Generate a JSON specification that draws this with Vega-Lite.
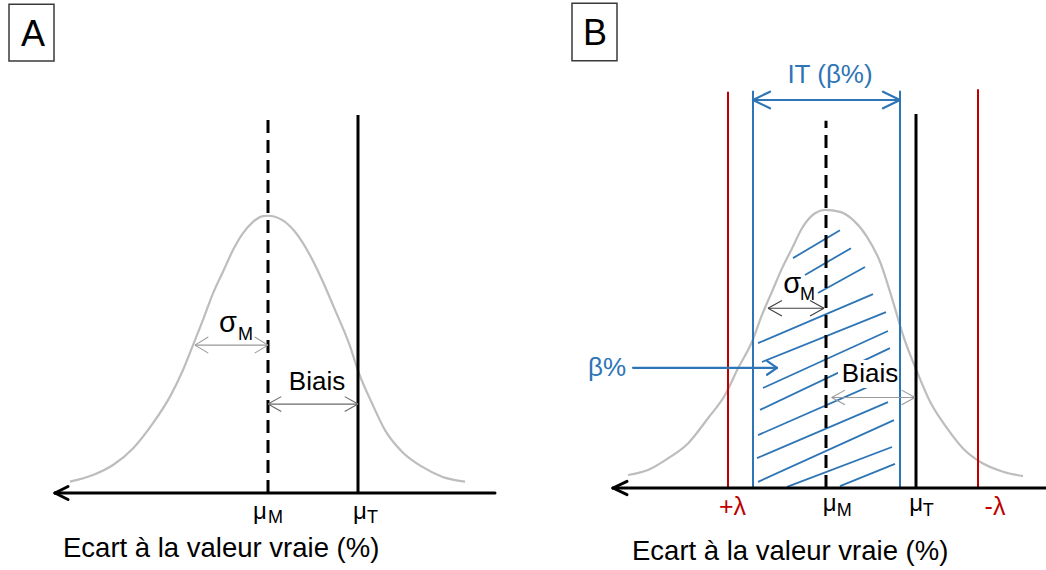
{
  "$schema": "https://vega.github.io/schema/vega-lite/v6.json",
  "autosize": {"type": "pad"},
  "padding": 0,
  "spacing": 0,
  "bounds": "flush",
  "background": "white",
  "config": {"view": {"stroke": null}, "text": {"font": "Liberation Sans"}},
  "resolve": {"scale": {"x": "independent", "y": "independent"}},
  "datasets": {
    "boxes": [
      {"panel": "A", "x": -25.9, "x2": -21.4, "y": 176.5, "y2": 156.0},
      {"panel": "B", "x": -25.4, "x2": -20.9, "y": 175.0, "y2": 154.3}
    ],
    "masks": [
      {"panel": "B", "x": 1.2, "x2": 7.6, "y": 36.1, "y2": 46.2}
    ],
    "curves": [
      {"panel": "A", "x": -19.8, "y": 4.1}, {"panel": "A", "x": -17.5, "y": 6.5}, {"panel": "A", "x": -15.5, "y": 10.1},
      {"panel": "A", "x": -13.5, "y": 16.1}, {"panel": "A", "x": -11.5, "y": 25.2}, {"panel": "A", "x": -9.8, "y": 34.8},
      {"panel": "A", "x": -8.5, "y": 44.4}, {"panel": "A", "x": -7.5, "y": 53.4}, {"panel": "A", "x": -6.5, "y": 62.5},
      {"panel": "A", "x": -5.5, "y": 72.1}, {"panel": "A", "x": -4.5, "y": 79.9}, {"panel": "A", "x": -3.5, "y": 87.7},
      {"panel": "A", "x": -2.5, "y": 93.8}, {"panel": "A", "x": -1.5, "y": 97.9}, {"panel": "A", "x": -0.5, "y": 100.0},
      {"panel": "A", "x": 0.0, "y": 100.1}, {"panel": "A", "x": 1.4, "y": 98.6}, {"panel": "A", "x": 2.7, "y": 94.3},
      {"panel": "A", "x": 4.1, "y": 86.5}, {"panel": "A", "x": 5.4, "y": 77.0}, {"panel": "A", "x": 6.7, "y": 66.1},
      {"panel": "A", "x": 8.1, "y": 54.0}, {"panel": "A", "x": 9.1, "y": 43.2}, {"panel": "A", "x": 10.4, "y": 32.4},
      {"panel": "A", "x": 11.7, "y": 22.7}, {"panel": "A", "x": 13.4, "y": 14.9}, {"panel": "A", "x": 15.4, "y": 9.5},
      {"panel": "A", "x": 17.4, "y": 5.9}, {"panel": "A", "x": 19.7, "y": 4.1},
      {"panel": "B", "x": -19.8, "y": 4.7}, {"panel": "B", "x": -17.8, "y": 6.5}, {"panel": "B", "x": -15.8, "y": 10.7},
      {"panel": "B", "x": -13.8, "y": 16.1}, {"panel": "B", "x": -11.8, "y": 25.2}, {"panel": "B", "x": -10.1, "y": 33.6},
      {"panel": "B", "x": -8.8, "y": 43.2}, {"panel": "B", "x": -7.4, "y": 52.8}, {"panel": "B", "x": -6.4, "y": 62.5},
      {"panel": "B", "x": -5.4, "y": 70.9}, {"panel": "B", "x": -4.4, "y": 79.3}, {"panel": "B", "x": -3.4, "y": 86.5},
      {"panel": "B", "x": -2.4, "y": 93.8}, {"panel": "B", "x": -1.1, "y": 99.2}, {"panel": "B", "x": -0.1, "y": 100.4},
      {"panel": "B", "x": 1.4, "y": 99.7}, {"panel": "B", "x": 2.7, "y": 96.8}, {"panel": "B", "x": 4.1, "y": 90.7},
      {"panel": "B", "x": 5.4, "y": 81.7}, {"panel": "B", "x": 6.7, "y": 67.3}, {"panel": "B", "x": 7.7, "y": 55.2},
      {"panel": "B", "x": 9.1, "y": 42.0}, {"panel": "B", "x": 10.4, "y": 31.2}, {"panel": "B", "x": 12.1, "y": 21.6},
      {"panel": "B", "x": 13.7, "y": 14.3}, {"panel": "B", "x": 15.4, "y": 9.5}, {"panel": "B", "x": 17.7, "y": 5.9},
      {"panel": "B", "x": 19.7, "y": 4.3}
    ],
    "verticals": [
      {"panel": "A", "kind": "muM", "x": 0.0, "y": 0, "y2": 137.2},
      {"panel": "A", "kind": "muT", "x": 9.0, "y": 0, "y2": 136.5},
      {"panel": "B", "kind": "muM", "x": 0.0, "y": 0, "y2": 132.6},
      {"panel": "B", "kind": "muT", "x": 9.0, "y": 0, "y2": 135.0},
      {"panel": "B", "kind": "lambda", "x": -9.8, "y": 0, "y2": 143.1},
      {"panel": "B", "kind": "lambda", "x": 15.2, "y": 0, "y2": 144.0},
      {"panel": "B", "kind": "IT", "x": -7.3, "y": 0, "y2": 143.4},
      {"panel": "B", "kind": "IT", "x": 7.4, "y": 0, "y2": 143.4}
    ],
    "segments": [
      {"panel": "A", "kind": "axis", "x": -21.3, "y": 0, "x2": 22.7, "y2": 0},
      {"panel": "A", "kind": "axis", "x": -21.3, "y": 0, "x2": -20.0, "y2": 2.35},
      {"panel": "A", "kind": "axis", "x": -21.3, "y": 0, "x2": -20.0, "y2": -2.35},
      {"panel": "A", "kind": "dimLight", "x": -7.3, "y": 53.4, "x2": 0, "y2": 53.4},
      {"panel": "A", "kind": "dimLight", "x": -7.3, "y": 53.4, "x2": -5.97, "y2": 56.3},
      {"panel": "A", "kind": "dimLight", "x": -7.3, "y": 53.4, "x2": -5.97, "y2": 50.5},
      {"panel": "A", "kind": "dimLight", "x": 0, "y": 53.4, "x2": -1.33, "y2": 56.3},
      {"panel": "A", "kind": "dimLight", "x": 0, "y": 53.4, "x2": -1.33, "y2": 50.5},
      {"panel": "A", "kind": "dimMid", "x": 0, "y": 32.1, "x2": 9.0, "y2": 32.1},
      {"panel": "A", "kind": "dimMid", "x": 0, "y": 32.1, "x2": 1.33, "y2": 34.8},
      {"panel": "A", "kind": "dimMid", "x": 0, "y": 32.1, "x2": 1.33, "y2": 29.4},
      {"panel": "A", "kind": "dimMid", "x": 9.0, "y": 32.1, "x2": 7.67, "y2": 34.8},
      {"panel": "A", "kind": "dimMid", "x": 9.0, "y": 32.1, "x2": 7.67, "y2": 29.4},
      {"panel": "B", "kind": "axis", "x": -21.3, "y": 0, "x2": 22.0, "y2": 0},
      {"panel": "B", "kind": "axis", "x": -21.3, "y": 0, "x2": -19.9, "y2": 2.4},
      {"panel": "B", "kind": "axis", "x": -21.3, "y": 0, "x2": -19.9, "y2": -2.4},
      {"panel": "B", "kind": "dimDark", "x": -5.8, "y": 64.9, "x2": -0.2, "y2": 64.9},
      {"panel": "B", "kind": "dimDark", "x": -5.8, "y": 64.9, "x2": -4.4, "y2": 67.7},
      {"panel": "B", "kind": "dimDark", "x": -5.8, "y": 64.9, "x2": -4.4, "y2": 62.1},
      {"panel": "B", "kind": "dimDark", "x": -0.2, "y": 64.9, "x2": -1.6, "y2": 67.7},
      {"panel": "B", "kind": "dimDark", "x": -0.2, "y": 64.9, "x2": -1.6, "y2": 62.1},
      {"panel": "B", "kind": "dimLight", "x": 0.57, "y": 32.7, "x2": 8.9, "y2": 32.7},
      {"panel": "B", "kind": "dimLight", "x": 0.57, "y": 32.7, "x2": 1.9, "y2": 35.35},
      {"panel": "B", "kind": "dimLight", "x": 0.57, "y": 32.7, "x2": 1.9, "y2": 30.05},
      {"panel": "B", "kind": "dimLight", "x": 8.9, "y": 32.7, "x2": 7.57, "y2": 35.35},
      {"panel": "B", "kind": "dimLight", "x": 8.9, "y": 32.7, "x2": 7.57, "y2": 30.05},
      {"panel": "B", "kind": "blueArrow", "x": -7.3, "y": 140.1, "x2": 7.4, "y2": 140.1},
      {"panel": "B", "kind": "blueArrow", "x": -7.3, "y": 140.1, "x2": -5.6, "y2": 143.1},
      {"panel": "B", "kind": "blueArrow", "x": -7.3, "y": 140.1, "x2": -5.6, "y2": 137.1},
      {"panel": "B", "kind": "blueArrow", "x": 7.4, "y": 140.1, "x2": 5.7, "y2": 143.1},
      {"panel": "B", "kind": "blueArrow", "x": 7.4, "y": 140.1, "x2": 5.7, "y2": 137.1},
      {"panel": "B", "kind": "blueArrow", "x": -19.3, "y": 43.4, "x2": -4.9, "y2": 43.4},
      {"panel": "B", "kind": "blueArrow", "x": -4.9, "y": 43.4, "x2": -5.9, "y2": 45.9},
      {"panel": "B", "kind": "blueArrow", "x": -4.9, "y": 43.4, "x2": -5.9, "y2": 40.9},
      {"panel": "B", "kind": "hatch", "x": -3.3, "y": 83.0, "x2": 1.4, "y2": 93.1},
      {"panel": "B", "kind": "hatch", "x": -2.1, "y": 76.9, "x2": 2.5, "y2": 86.6},
      {"panel": "B", "kind": "hatch", "x": -0.8, "y": 70.4, "x2": 3.9, "y2": 79.8},
      {"panel": "B", "kind": "hatch", "x": -6.8, "y": 52.3, "x2": 4.7, "y2": 70.0},
      {"panel": "B", "kind": "hatch", "x": -6.4, "y": 45.5, "x2": 6.0, "y2": 63.5},
      {"panel": "B", "kind": "hatch", "x": -6.3, "y": 36.1, "x2": 6.2, "y2": 56.7},
      {"panel": "B", "kind": "hatch", "x": -6.6, "y": 28.2, "x2": 6.4, "y2": 50.5},
      {"panel": "B", "kind": "hatch", "x": -6.8, "y": 19.1, "x2": 6.2, "y2": 39.7},
      {"panel": "B", "kind": "hatch", "x": -6.9, "y": 10.8, "x2": 6.2, "y2": 31.0},
      {"panel": "B", "kind": "hatch", "x": -6.8, "y": 2.2, "x2": 6.8, "y2": 24.5},
      {"panel": "B", "kind": "hatch", "x": -3.9, "y": 0.4, "x2": 6.6, "y2": 14.8},
      {"panel": "B", "kind": "hatch", "x": 1.4, "y": 0.7, "x2": 6.9, "y2": 8.7}
    ],
    "labels": [
      {"panel": "A", "role": "letter", "text": "A", "x": -23.5, "y": 161.4},
      {"panel": "A", "role": "sigma", "text": "σ", "x": -4.9, "y": 58.2},
      {"panel": "A", "role": "sub", "text": "M", "x": -3.0, "y": 55.2},
      {"panel": "A", "role": "word", "text": "Biais", "x": 4.9, "y": 37.2},
      {"panel": "A", "role": "mu", "text": "μ", "x": -1.5, "y": -9.5},
      {"panel": "A", "role": "sub", "text": "M", "x": 0.0, "y": -10.9},
      {"panel": "A", "role": "mu", "text": "μ", "x": 8.5, "y": -9.5},
      {"panel": "A", "role": "sub", "text": "T", "x": 9.9, "y": -10.9},
      {"panel": "A", "role": "title", "text": "Ecart à la valeur vraie (%)", "x": -20.5, "y": -23.0},
      {"panel": "B", "role": "letter", "text": "B", "x": -23.1, "y": 159.9},
      {"panel": "B", "role": "sigma", "text": "σ", "x": -4.27, "y": 70.3},
      {"panel": "B", "role": "sub", "text": "M", "x": -2.6, "y": 67.9},
      {"panel": "B", "role": "word", "text": "Biais", "x": 4.4, "y": 38.4},
      {"panel": "B", "role": "mu", "text": "μ", "x": -0.33, "y": -8.2},
      {"panel": "B", "role": "sub", "text": "M", "x": 1.07, "y": -10.1},
      {"panel": "B", "role": "mu", "text": "μ", "x": 8.33, "y": -8.2},
      {"panel": "B", "role": "sub", "text": "T", "x": 9.67, "y": -10.1},
      {"panel": "B", "role": "lambda", "text": "+λ", "x": -9.35, "y": -9.75},
      {"panel": "B", "role": "lambda", "text": "-λ", "x": 16.9, "y": -9.75},
      {"panel": "B", "role": "blueC", "text": "IT (β%)", "x": 0.4, "y": 146.1},
      {"panel": "B", "role": "blueL", "text": "β%", "x": -23.8, "y": 40.4},
      {"panel": "B", "role": "title", "text": "Ecart à la valeur vraie (%)", "x": -19.4, "y": -26.0}
    ]
  },
  "hconcat": [
    {
      "width": 523,
      "height": 570,
      "encoding": {
        "x": {"field": "x", "type": "quantitative", "scale": {"domain": [-26.8, 25.5], "nice": false, "zero": false}, "axis": null},
        "y": {"field": "y", "type": "quantitative", "scale": {"domain": [-27.8, 178.0], "nice": false, "zero": false}, "axis": null}
      },
      "layer": [
        {"data": {"name": "boxes"}, "transform": [{"filter": "datum.panel === 'A'"}],
         "mark": {"type": "rect", "fill": "white", "stroke": "#3a3a3a", "strokeWidth": 1.5},
         "encoding": {"x2": {"field": "x2"}, "y2": {"field": "y2"}}},
        {"data": {"name": "curves"}, "transform": [{"filter": "datum.panel === 'A'"}],
         "mark": {"type": "line", "interpolate": "monotone", "color": "#bdbdbd", "strokeWidth": 2.2},
         "encoding": {}},
        {"data": {"name": "verticals"}, "transform": [{"filter": "datum.panel === 'A' && datum.kind === 'muM'"}],
         "mark": {"type": "rule", "color": "black", "strokeWidth": 3, "strokeDash": [13, 7], "strokeCap": "butt"},
         "encoding": {"y2": {"field": "y2"}}},
        {"data": {"name": "verticals"}, "transform": [{"filter": "datum.panel === 'A' && datum.kind === 'muT'"}],
         "mark": {"type": "rule", "color": "black", "strokeWidth": 3},
         "encoding": {"y2": {"field": "y2"}}},
        {"data": {"name": "segments"}, "transform": [{"filter": "datum.panel === 'A' && datum.kind === 'axis'"}],
         "mark": {"type": "rule", "color": "black", "strokeWidth": 3, "strokeCap": "round"},
         "encoding": {"x2": {"field": "x2"}, "y2": {"field": "y2"}}},
        {"data": {"name": "segments"}, "transform": [{"filter": "datum.panel === 'A' && datum.kind === 'dimLight'"}],
         "mark": {"type": "rule", "color": "#9a9a9a", "strokeWidth": 1.1},
         "encoding": {"x2": {"field": "x2"}, "y2": {"field": "y2"}}},
        {"data": {"name": "segments"}, "transform": [{"filter": "datum.panel === 'A' && datum.kind === 'dimMid'"}],
         "mark": {"type": "rule", "color": "#6a6a6a", "strokeWidth": 1.1},
         "encoding": {"x2": {"field": "x2"}, "y2": {"field": "y2"}}},
        {"data": {"name": "labels"}, "transform": [{"filter": "datum.panel === 'A' && datum.role === 'letter'"}],
         "mark": {"type": "text", "fontSize": 36, "align": "center", "baseline": "alphabetic", "color": "black"},
         "encoding": {"text": {"field": "text"}}},
        {"data": {"name": "labels"}, "transform": [{"filter": "datum.panel === 'A' && datum.role === 'sigma'"}],
         "mark": {"type": "text", "fontSize": 29, "align": "left", "baseline": "alphabetic", "color": "black"},
         "encoding": {"text": {"field": "text"}}},
        {"data": {"name": "labels"}, "transform": [{"filter": "datum.panel === 'A' && datum.role === 'mu'"}],
         "mark": {"type": "text", "fontSize": 24, "align": "left", "baseline": "alphabetic", "color": "black"},
         "encoding": {"text": {"field": "text"}}},
        {"data": {"name": "labels"}, "transform": [{"filter": "datum.panel === 'A' && datum.role === 'sub'"}],
         "mark": {"type": "text", "fontSize": 18, "align": "left", "baseline": "alphabetic", "color": "black"},
         "encoding": {"text": {"field": "text"}}},
        {"data": {"name": "labels"}, "transform": [{"filter": "datum.panel === 'A' && datum.role === 'word'"}],
         "mark": {"type": "text", "fontSize": 26, "align": "center", "baseline": "alphabetic", "color": "black"},
         "encoding": {"text": {"field": "text"}}},
        {"data": {"name": "labels"}, "transform": [{"filter": "datum.panel === 'A' && datum.role === 'title'"}],
         "mark": {"type": "text", "fontSize": 27.5, "align": "left", "baseline": "alphabetic", "color": "black"},
         "encoding": {"text": {"field": "text"}}}
      ]
    },
    {
      "width": 523,
      "height": 570,
      "encoding": {
        "x": {"field": "x", "type": "quantitative", "scale": {"domain": [-30.3, 22.0], "nice": false, "zero": false}, "axis": null},
        "y": {"field": "y", "type": "quantitative", "scale": {"domain": [-29.6, 176.2], "nice": false, "zero": false}, "axis": null}
      },
      "layer": [
        {"data": {"name": "boxes"}, "transform": [{"filter": "datum.panel === 'B'"}],
         "mark": {"type": "rect", "fill": "white", "stroke": "#3a3a3a", "strokeWidth": 1.5},
         "encoding": {"x2": {"field": "x2"}, "y2": {"field": "y2"}}},
        {"data": {"name": "segments"}, "transform": [{"filter": "datum.panel === 'B' && datum.kind === 'hatch'"}],
         "mark": {"type": "rule", "color": "#2e75b6", "strokeWidth": 1.8},
         "encoding": {"x2": {"field": "x2"}, "y2": {"field": "y2"}}},
        {"data": {"name": "masks"}, "transform": [{"filter": "datum.panel === 'B'"}],
         "mark": {"type": "rect", "fill": "white"},
         "encoding": {"x2": {"field": "x2"}, "y2": {"field": "y2"}}},
        {"data": {"name": "curves"}, "transform": [{"filter": "datum.panel === 'B'"}],
         "mark": {"type": "line", "interpolate": "monotone", "color": "#bdbdbd", "strokeWidth": 2.2},
         "encoding": {}},
        {"data": {"name": "verticals"}, "transform": [{"filter": "datum.panel === 'B' && datum.kind === 'lambda'"}],
         "mark": {"type": "rule", "color": "#c00000", "strokeWidth": 2},
         "encoding": {"y2": {"field": "y2"}}},
        {"data": {"name": "verticals"}, "transform": [{"filter": "datum.panel === 'B' && datum.kind === 'IT'"}],
         "mark": {"type": "rule", "color": "#2e75b6", "strokeWidth": 2},
         "encoding": {"y2": {"field": "y2"}}},
        {"data": {"name": "verticals"}, "transform": [{"filter": "datum.panel === 'B' && datum.kind === 'muM'"}],
         "mark": {"type": "rule", "color": "black", "strokeWidth": 3, "strokeDash": [13, 7], "strokeCap": "butt"},
         "encoding": {"y2": {"field": "y2"}}},
        {"data": {"name": "verticals"}, "transform": [{"filter": "datum.panel === 'B' && datum.kind === 'muT'"}],
         "mark": {"type": "rule", "color": "black", "strokeWidth": 3},
         "encoding": {"y2": {"field": "y2"}}},
        {"data": {"name": "segments"}, "transform": [{"filter": "datum.panel === 'B' && datum.kind === 'axis'"}],
         "mark": {"type": "rule", "color": "black", "strokeWidth": 3, "strokeCap": "round"},
         "encoding": {"x2": {"field": "x2"}, "y2": {"field": "y2"}}},
        {"data": {"name": "segments"}, "transform": [{"filter": "datum.panel === 'B' && datum.kind === 'dimDark'"}],
         "mark": {"type": "rule", "color": "#404040", "strokeWidth": 1.1},
         "encoding": {"x2": {"field": "x2"}, "y2": {"field": "y2"}}},
        {"data": {"name": "segments"}, "transform": [{"filter": "datum.panel === 'B' && datum.kind === 'dimLight'"}],
         "mark": {"type": "rule", "color": "#9a9a9a", "strokeWidth": 1.1},
         "encoding": {"x2": {"field": "x2"}, "y2": {"field": "y2"}}},
        {"data": {"name": "segments"}, "transform": [{"filter": "datum.panel === 'B' && datum.kind === 'blueArrow'"}],
         "mark": {"type": "rule", "color": "#2e75b6", "strokeWidth": 2.2, "strokeCap": "round"},
         "encoding": {"x2": {"field": "x2"}, "y2": {"field": "y2"}}},
        {"data": {"name": "labels"}, "transform": [{"filter": "datum.panel === 'B' && datum.role === 'letter'"}],
         "mark": {"type": "text", "fontSize": 36, "align": "center", "baseline": "alphabetic", "color": "black"},
         "encoding": {"text": {"field": "text"}}},
        {"data": {"name": "labels"}, "transform": [{"filter": "datum.panel === 'B' && datum.role === 'sigma'"}],
         "mark": {"type": "text", "fontSize": 29, "align": "left", "baseline": "alphabetic", "color": "black"},
         "encoding": {"text": {"field": "text"}}},
        {"data": {"name": "labels"}, "transform": [{"filter": "datum.panel === 'B' && datum.role === 'mu'"}],
         "mark": {"type": "text", "fontSize": 24, "align": "left", "baseline": "alphabetic", "color": "black"},
         "encoding": {"text": {"field": "text"}}},
        {"data": {"name": "labels"}, "transform": [{"filter": "datum.panel === 'B' && datum.role === 'sub'"}],
         "mark": {"type": "text", "fontSize": 18, "align": "left", "baseline": "alphabetic", "color": "black"},
         "encoding": {"text": {"field": "text"}}},
        {"data": {"name": "labels"}, "transform": [{"filter": "datum.panel === 'B' && datum.role === 'word'"}],
         "mark": {"type": "text", "fontSize": 26, "align": "center", "baseline": "alphabetic", "color": "black"},
         "encoding": {"text": {"field": "text"}}},
        {"data": {"name": "labels"}, "transform": [{"filter": "datum.panel === 'B' && datum.role === 'title'"}],
         "mark": {"type": "text", "fontSize": 27.5, "align": "left", "baseline": "alphabetic", "color": "black"},
         "encoding": {"text": {"field": "text"}}},
        {"data": {"name": "labels"}, "transform": [{"filter": "datum.panel === 'B' && datum.role === 'lambda'"}],
         "mark": {"type": "text", "fontSize": 25, "align": "center", "baseline": "alphabetic", "color": "#c00000"},
         "encoding": {"text": {"field": "text"}}},
        {"data": {"name": "labels"}, "transform": [{"filter": "datum.panel === 'B' && datum.role === 'blueC'"}],
         "mark": {"type": "text", "fontSize": 26, "align": "center", "baseline": "alphabetic", "color": "#2e75b6"},
         "encoding": {"text": {"field": "text"}}},
        {"data": {"name": "labels"}, "transform": [{"filter": "datum.panel === 'B' && datum.role === 'blueL'"}],
         "mark": {"type": "text", "fontSize": 26, "align": "left", "baseline": "alphabetic", "color": "#2e75b6"},
         "encoding": {"text": {"field": "text"}}}
      ]
    }
  ]
}
